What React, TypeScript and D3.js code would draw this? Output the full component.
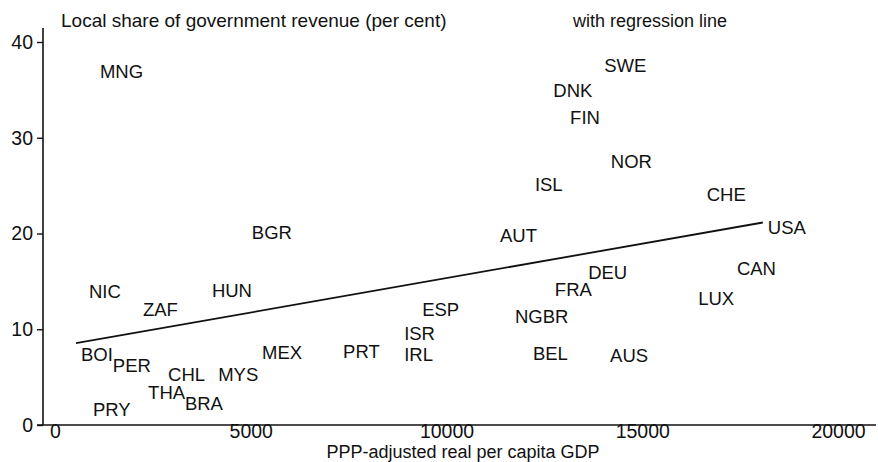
import React, { useEffect, useRef } from 'react';
import * as d3 from 'd3';

// country codes, PPP-adjusted GDP per capita, local share of revenue (%)
const countries = ['MNG', 'SWE', 'DNK', 'FIN', 'NOR', 'CHE', 'USA', 'CAN', 'LUX', 'AUS', 'DEU', 'ISL', 'AUT', 'FRA', 'NGBR', 'BEL', 'ESP', 'ISR', 'IRL', 'PRT', 'MEX', 'BGR', 'HUN', 'NIC', 'ZAF', 'BOI', 'PER', 'CHL', 'MYS', 'THA', 'BRA', 'PRY'];
const gdp = [1020, 13900, 12600, 13030, 14070, 16520, 18080, 17290, 16300, 14050, 13490, 12130, 11240, 12640, 11620, 12080, 9250, 8790, 8790, 7230, 5160, 4900, 3880, 740, 2120, 536, 1350, 2760, 4040, 2250, 3190, 840];
const localShare = [36.9, 37.6, 35.0, 32.1, 27.5, 24.1, 20.6, 16.4, 13.2, 7.3, 15.9, 25.1, 19.8, 14.2, 11.3, 7.5, 12.1, 9.6, 7.4, 7.7, 7.6, 20.1, 14.1, 14.0, 12.1, 7.4, 6.2, 5.3, 5.3, 3.4, 2.3, 1.6];

// regression line end points
const regGdp = [536, 18080];
const regShare = [8.54, 21.15];

const xTicks = [0, 5000, 10000, 15000, 20000];
const yTicks = [0, 10, 20, 30, 40];

const App = () => {
  const svgRef = useRef(null);

  useEffect(() => {
    const width = 878;
    const height = 462;
    const font = "'Liberation Sans', Arial, Helvetica, sans-serif";

    const svg = d3.select(svgRef.current);
    svg.selectAll('*').remove();
    svg.attr('width', width).attr('height', height);

    svg.append('rect').attr('width', width).attr('height', height).attr('fill', '#fff');

    const x = d3.scaleLinear().domain([0, 20000]).range([55, 838]);
    const y = d3.scaleLinear().domain([0, 40]).range([425, 42]);

    // y axis
    const yAxis = svg.append('g')
      .attr('transform', 'translate(43,0)')
      .call(d3.axisLeft(y).tickValues(yTicks).tickSize(6).tickPadding(4).tickSizeOuter(0));
    yAxis.select('.domain').attr('d', 'M0,28V425').attr('stroke', '#111').attr('stroke-width', 1.6);
    yAxis.selectAll('line').attr('stroke', '#111').attr('stroke-width', 1.4);
    yAxis.selectAll('text').attr('font-family', font).attr('font-size', 19.5).attr('fill', '#111');

    // x axis
    const xAxis = svg.append('g')
      .attr('transform', 'translate(0,425)')
      .call(d3.axisBottom(x).tickValues(xTicks).tickSize(0).tickPadding(0).tickFormat(d3.format('d')));
    xAxis.select('.domain').attr('d', 'M37,0H876').attr('stroke', '#111').attr('stroke-width', 1.6);
    xAxis.selectAll('text')
      .attr('font-family', font)
      .attr('font-size', 19.5)
      .attr('dy', '0.66em')
      .attr('fill', '#111');

    // regression line
    const line = d3.line().x(d => x(d[0])).y(d => y(d[1]));
    svg.append('path')
      .attr('d', line(d3.zip(regGdp, regShare)))
      .attr('fill', 'none')
      .attr('stroke', '#111')
      .attr('stroke-width', 1.8);

    // country labels
    svg.append('g')
      .selectAll('text')
      .data(countries)
      .enter()
      .append('text')
      .attr('x', (d, i) => x(gdp[i]) + 5)
      .attr('y', (d, i) => y(localShare[i]))
      .attr('dy', '0.36em')
      .attr('font-family', font)
      .attr('font-size', 18.5)
      .attr('fill', '#111')
      .text(d => d);

    // titles
    svg.append('text')
      .attr('x', 61)
      .attr('y', 27)
      .attr('font-family', font)
      .attr('font-size', 19)
      .attr('fill', '#111')
      .text('Local share of government revenue (per cent)');

    svg.append('text')
      .attr('x', 573)
      .attr('y', 27)
      .attr('font-family', font)
      .attr('font-size', 18)
      .attr('fill', '#111')
      .text('with regression line');

    svg.append('text')
      .attr('x', 463)
      .attr('y', 458)
      .attr('text-anchor', 'middle')
      .attr('font-family', font)
      .attr('font-size', 18)
      .attr('fill', '#111')
      .text('PPP-adjusted real per capita GDP');
  }, []);

  return (
    <div style={{ position: 'absolute', left: 0, top: 0, width: 878, height: 462, background: '#fff' }}>
      <svg ref={svgRef} style={{ display: 'block' }}></svg>
    </div>
  );
};

export default App;
